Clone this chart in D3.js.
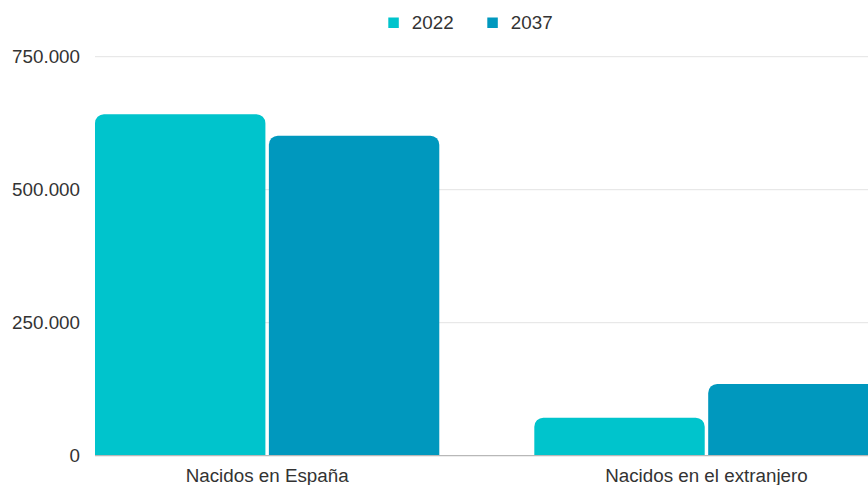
<!DOCTYPE html>
<html>
<head>
<meta charset="utf-8">
<script src="https://cdn.jsdelivr.net/npm/d3@7"></script>
<style>
  html, body { margin: 0; padding: 0; background: #fff; overflow: hidden; }
  svg { display: block; font-family: "Liberation Sans", Arial, sans-serif; }
</style>
</head>
<body>
<script>
const categories = ["Nacidos en España", "Nacidos en el extranjero"];
const series = ["2022", "2037"];
const values2022 = [642000, 71400];
const values2037 = [601500, 134800];
const yTicks = [0, 250000, 500000, 750000];
const colors = ["#00c4cc", "#0098be"];

const width = 868;
const height = 485;
const plotLeft = 95;
const plotTop = 56.7;
const plotBottom = 455.7;

const es = d3.formatLocale({ decimal: ",", thousands: ".", grouping: [3], currency: ["", " €"] });
const fmt = es.format(",d");

const rows = categories.map((c, i) => ({
  category: c,
  values: [
    { key: series[0], value: values2022[i] },
    { key: series[1], value: values2037[i] },
  ],
}));

const svg = d3
  .select("body")
  .append("svg")
  .attr("width", width)
  .attr("height", height);

const x0 = d3
  .scaleBand()
  .domain(categories)
  .range([plotLeft, 878.6])
  .paddingInner(0.2163)
  .paddingOuter(0);

const x1 = d3
  .scaleBand()
  .domain(series)
  .range([0, x0.bandwidth()])
  .paddingInner(0.02);

const y = d3.scaleLinear().domain([0, 750000]).range([plotBottom, plotTop]);

const color = d3.scaleOrdinal().domain(series).range(colors);

// gridlines
svg
  .append("g")
  .selectAll("line")
  .data(yTicks.filter((d) => d > 0))
  .enter()
  .append("line")
  .attr("x1", plotLeft)
  .attr("x2", width)
  .attr("y1", (d) => y(d))
  .attr("y2", (d) => y(d))
  .attr("stroke", "#e3e3e3")
  .attr("stroke-width", 1);

// y labels
const yAxis = d3.axisLeft(y).tickValues(yTicks).tickFormat(fmt).tickSize(0).tickPadding(15);
const gy = svg.append("g").attr("transform", `translate(${plotLeft},0)`).call(yAxis);
gy.select(".domain").remove();
gy.selectAll("text")
  .attr("fill", "#333")
  .style("font-size", "18.8px")
  .attr("dy", "0.3em");

// bars with rounded tops
function roundTop(x, yTop, w, h, r) {
  r = Math.min(r, h, w / 2);
  return `M${x},${yTop + h}V${yTop + r}A${r},${r} 0 0 1 ${x + r},${yTop}H${x + w - r}A${r},${r} 0 0 1 ${x + w},${yTop + r}V${yTop + h}Z`;
}

svg
  .append("g")
  .selectAll("g")
  .data(rows)
  .enter()
  .append("g")
  .attr("transform", (d) => `translate(${x0(d.category)},0)`)
  .selectAll("path")
  .data((d) => d.values)
  .enter()
  .append("path")
  .attr("fill", (d) => color(d.key))
  .attr("d", (d) => roundTop(x1(d.key), y(d.value), x1.bandwidth(), plotBottom - y(d.value), 9));

// baseline
svg
  .append("line")
  .attr("x1", plotLeft)
  .attr("x2", width)
  .attr("y1", plotBottom)
  .attr("y2", plotBottom)
  .attr("stroke", "#b8b8b8")
  .attr("stroke-width", 1.3);

// x labels
const xAxis = d3.axisBottom(x0).tickSize(0).tickPadding(13);
const gx = svg.append("g").attr("transform", `translate(0,${plotBottom})`).call(xAxis);
gx.select(".domain").remove();
gx.selectAll("text")
  .attr("fill", "#333")
  .style("font-size", "18.8px");

// legend
const legendX = [388.3, 487.3];
const legend = svg
  .append("g")
  .selectAll("g")
  .data(series)
  .enter()
  .append("g")
  .attr("transform", (d, i) => `translate(${legendX[i]},17.5)`);
legend
  .append("rect")
  .attr("width", 10.5)
  .attr("height", 10.5)
  .attr("fill", (d) => color(d));
legend
  .append("text")
  .attr("x", 23.5)
  .attr("y", 11)
  .attr("fill", "#333")
  .style("font-size", "18.8px")
  .text((d) => d);
</script>
</body>
</html>
